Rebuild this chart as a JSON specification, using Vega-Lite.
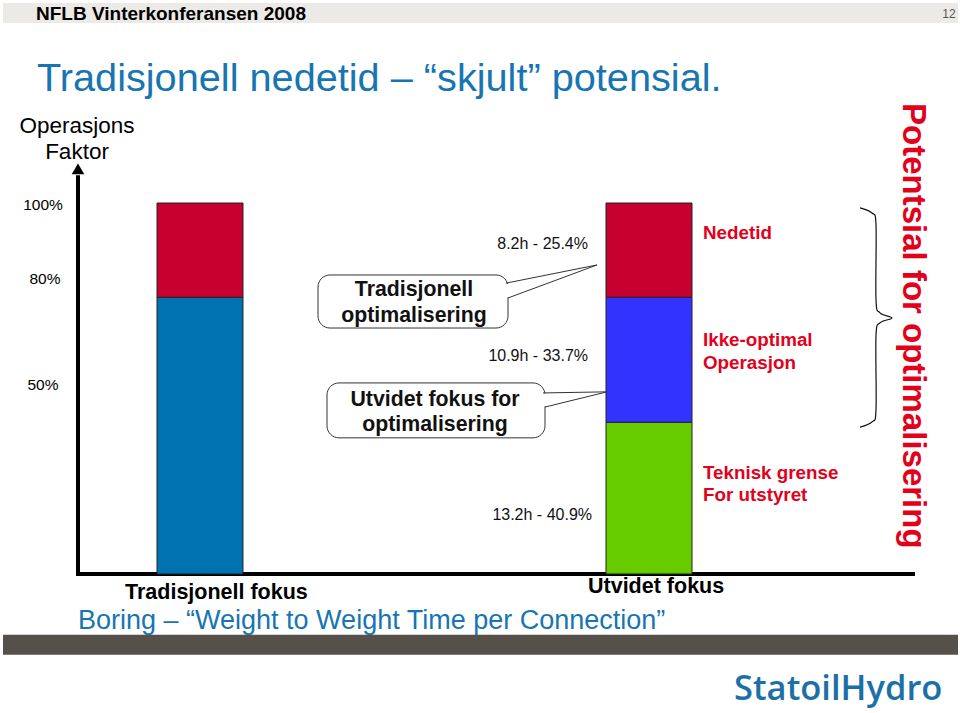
{
  "$schema": "https://vega.github.io/schema/vega-lite/v6.json",
  "width": 960,
  "height": 713,
  "autosize": {"type": "fit", "contains": "padding"},
  "padding": 0,
  "background": "white",
  "config": {"view": {"stroke": null}},
  "resolve": {"scale": {"x": "independent", "color": "independent"}},
  "layer": [
    {
      "data": {"values": [{"band": "topp", "x": 3, "x2": 958, "y": 153.9, "y2": 148.5}]},
      "mark": {"type": "rect", "fill": "#ECEAE7"},
      "encoding": {
        "x": {"field": "x", "type": "quantitative", "scale": {"domain": [0, 960]}, "axis": null},
        "x2": {"field": "x2"},
        "y": {"field": "y", "type": "quantitative", "scale": {"domain": [-37.47, 154.72]}, "axis": null},
        "y2": {"field": "y2"}
      }
    },
    {
      "data": {"values": [{"band": "bunn", "x": 3, "x2": 958, "y": -16.4, "y2": -21.8}]},
      "mark": {"type": "rect", "fill": "#56504B"},
      "encoding": {
        "x": {"field": "x", "type": "quantitative", "scale": {"domain": [0, 960]}, "axis": null},
        "x2": {"field": "x2"},
        "y": {"field": "y", "type": "quantitative", "scale": {"domain": [-37.47, 154.72]}, "axis": null},
        "y2": {"field": "y2"}
      }
    },
    {
      "data": {"values": [{"t": "NFLB Vinterkonferansen 2008", "x": 36, "y": 150.9}]},
      "mark": {"type": "text", "align": "left", "baseline": "middle", "font": "Liberation Sans", "fontSize": 19, "fontWeight": "bold", "color": "#000000"},
      "encoding": {
        "x": {"field": "x", "type": "quantitative", "scale": {"domain": [0, 960]}, "axis": null},
        "y": {"field": "y", "type": "quantitative", "scale": {"domain": [-37.47, 154.72]}, "axis": null},
        "text": {"field": "t"}
      }
    },
    {
      "data": {"values": [{"t": "12", "x": 949, "y": 150.9}]},
      "mark": {"type": "text", "align": "center", "baseline": "middle", "font": "Liberation Sans", "fontSize": 12, "color": "#555555"},
      "encoding": {
        "x": {"field": "x", "type": "quantitative", "scale": {"domain": [0, 960]}, "axis": null},
        "y": {"field": "y", "type": "quantitative", "scale": {"domain": [-37.47, 154.72]}, "axis": null},
        "text": {"field": "t"}
      }
    },
    {
      "data": {"values": [{"t": "Tradisjonell nedetid – “skjult” potensial.", "x": 37, "y": 130.2}]},
      "mark": {"type": "text", "align": "left", "baseline": "alphabetic", "font": "Liberation Sans", "fontSize": 39.7, "color": "#1775B3"},
      "encoding": {
        "x": {"field": "x", "type": "quantitative", "scale": {"domain": [0, 960]}, "axis": null},
        "y": {"field": "y", "type": "quantitative", "scale": {"domain": [-37.47, 154.72]}, "axis": null},
        "text": {"field": "t"}
      }
    },
    {
      "data": {"values": [{"t": "Operasjons", "x": 77, "y": 120.75}, {"t": "Faktor", "x": 77, "y": 113.7}]},
      "mark": {"type": "text", "align": "center", "baseline": "middle", "font": "Liberation Sans", "fontSize": 22.5, "color": "#000000"},
      "encoding": {
        "x": {"field": "x", "type": "quantitative", "scale": {"domain": [0, 960]}, "axis": null},
        "y": {"field": "y", "type": "quantitative", "scale": {"domain": [-37.47, 154.72]}, "axis": null},
        "text": {"field": "t"}
      }
    },
    {
      "data": {"values": [{"t": "100%", "x": 43, "y": 99.5}, {"t": "80%", "x": 45, "y": 79.5}, {"t": "50%", "x": 43, "y": 50.9}]},
      "mark": {"type": "text", "align": "center", "baseline": "middle", "font": "Liberation Sans", "fontSize": 15.5, "color": "#000000"},
      "encoding": {
        "x": {"field": "x", "type": "quantitative", "scale": {"domain": [0, 960]}, "axis": null},
        "y": {"field": "y", "type": "quantitative", "scale": {"domain": [-37.47, 154.72]}, "axis": null},
        "text": {"field": "t"}
      }
    },
    {
      "data": {"values": [{"akse": "y", "x": 78, "x2": 78, "y": 0, "y2": 107.5}, {"akse": "x", "x": 76, "x2": 915, "y": 0, "y2": 0}]},
      "mark": {"type": "rule", "strokeWidth": 4, "color": "#000000"},
      "encoding": {
        "x": {"field": "x", "type": "quantitative", "scale": {"domain": [0, 960]}, "axis": null},
        "x2": {"field": "x2"},
        "y": {"field": "y", "type": "quantitative", "scale": {"domain": [-37.47, 154.72]}, "axis": null},
        "y2": {"field": "y2"}
      }
    },
    {
      "data": {"values": [{"x": 78, "y": 109.2}]},
      "mark": {"type": "point", "shape": "triangle-up", "size": 160, "filled": true, "color": "#000000", "opacity": 1},
      "encoding": {
        "x": {"field": "x", "type": "quantitative", "scale": {"domain": [0, 960]}, "axis": null},
        "y": {"field": "y", "type": "quantitative", "scale": {"domain": [-37.47, 154.72]}, "axis": null}
      }
    },
    {
      "data": {"values": [
        {"fokus": "Tradisjonell fokus", "del": "Operasjon", "niva": 1, "verdi": 74.6},
        {"fokus": "Tradisjonell fokus", "del": "Nedetid", "niva": 2, "verdi": 25.4},
        {"fokus": "Utvidet fokus", "del": "Teknisk grense", "niva": 1, "verdi": 40.9},
        {"fokus": "Utvidet fokus", "del": "Ikke-optimal operasjon", "niva": 2, "verdi": 33.7},
        {"fokus": "Utvidet fokus", "del": "Nedetid", "niva": 3, "verdi": 25.4}
      ]},
      "mark": {"type": "bar", "stroke": "#222222", "strokeWidth": 1},
      "encoding": {
        "x": {"field": "fokus", "type": "nominal", "scale": {"domain": ["Tradisjonell fokus", "Utvidet fokus"], "range": [157, 692], "paddingInner": 0.8085, "paddingOuter": 0}, "axis": null},
        "y": {"field": "verdi", "type": "quantitative", "stack": "zero", "scale": {"domain": [-37.47, 154.72]}, "axis": null},
        "color": {"field": "del", "type": "nominal", "scale": {"domain": ["Nedetid", "Ikke-optimal operasjon", "Teknisk grense", "Operasjon"], "range": ["#C8002F", "#3333FF", "#66CC00", "#0072B2"]}, "legend": null},
        "order": {"field": "niva", "type": "quantitative"}
      }
    },
    {
      "data": {"values": [
        {"boks": "Tradisjonell optimalisering", "x": 318, "x2": 508, "y": 80.6, "y2": 66.3},
        {"boks": "Utvidet fokus for optimalisering", "x": 327, "x2": 545, "y": 51.5, "y2": 36.7}
      ]},
      "mark": {"type": "rect", "cornerRadius": 12, "fill": "#FFFFFF", "stroke": "#333333", "strokeWidth": 1},
      "encoding": {
        "x": {"field": "x", "type": "quantitative", "scale": {"domain": [0, 960]}, "axis": null},
        "x2": {"field": "x2"},
        "y": {"field": "y", "type": "quantitative", "scale": {"domain": [-37.47, 154.72]}, "axis": null},
        "y2": {"field": "y2"}
      }
    },
    {
      "data": {"values": [
        {"x": 508, "x2": 508, "y": 78.2, "y2": 74.6},
        {"x": 545, "x2": 545, "y": 48.6, "y2": 45.2}
      ]},
      "mark": {"type": "rule", "strokeWidth": 3, "color": "#FFFFFF"},
      "encoding": {
        "x": {"field": "x", "type": "quantitative", "scale": {"domain": [0, 960]}, "axis": null},
        "x2": {"field": "x2"},
        "y": {"field": "y", "type": "quantitative", "scale": {"domain": [-37.47, 154.72]}, "axis": null},
        "y2": {"field": "y2"}
      }
    },
    {
      "data": {"values": [
        {"x": 506, "x2": 597, "y": 78.4, "y2": 83.3},
        {"x": 597, "x2": 508, "y": 83.3, "y2": 74.4},
        {"x": 543, "x2": 607, "y": 48.8, "y2": 49.1},
        {"x": 607, "x2": 545, "y": 49.1, "y2": 45.0}
      ]},
      "mark": {"type": "rule", "strokeWidth": 1, "color": "#333333"},
      "encoding": {
        "x": {"field": "x", "type": "quantitative", "scale": {"domain": [0, 960]}, "axis": null},
        "x2": {"field": "x2"},
        "y": {"field": "y", "type": "quantitative", "scale": {"domain": [-37.47, 154.72]}, "axis": null},
        "y2": {"field": "y2"}
      }
    },
    {
      "data": {"values": [
        {"t": "Tradisjonell", "x": 414, "y": 76.5},
        {"t": "optimalisering", "x": 414, "y": 69.5},
        {"t": "Utvidet fokus for", "x": 435, "y": 46.9},
        {"t": "optimalisering", "x": 435, "y": 40.2}
      ]},
      "mark": {"type": "text", "align": "center", "baseline": "middle", "font": "Liberation Sans", "fontSize": 21.3, "fontWeight": "bold", "color": "#111111"},
      "encoding": {
        "x": {"field": "x", "type": "quantitative", "scale": {"domain": [0, 960]}, "axis": null},
        "y": {"field": "y", "type": "quantitative", "scale": {"domain": [-37.47, 154.72]}, "axis": null},
        "text": {"field": "t"}
      }
    },
    {
      "data": {"values": [
        {"t": "8.2h - 25.4%", "x": 588, "y": 88.9},
        {"t": "10.9h - 33.7%", "x": 588, "y": 58.8},
        {"t": "13.2h - 40.9%", "x": 592, "y": 15.9}
      ]},
      "mark": {"type": "text", "align": "right", "baseline": "middle", "font": "Liberation Sans", "fontSize": 16, "color": "#111111"},
      "encoding": {
        "x": {"field": "x", "type": "quantitative", "scale": {"domain": [0, 960]}, "axis": null},
        "y": {"field": "y", "type": "quantitative", "scale": {"domain": [-37.47, 154.72]}, "axis": null},
        "text": {"field": "t"}
      }
    },
    {
      "data": {"values": [
        {"t": "Nedetid", "x": 703, "y": 91.9},
        {"t": "Ikke-optimal", "x": 703, "y": 63.1},
        {"t": "Operasjon", "x": 703, "y": 56.9},
        {"t": "Teknisk grense", "x": 703, "y": 27.2},
        {"t": "For utstyret", "x": 703, "y": 21.3}
      ]},
      "mark": {"type": "text", "align": "left", "baseline": "middle", "font": "Liberation Sans", "fontSize": 18.8, "fontWeight": "bold", "color": "#E3001B"},
      "encoding": {
        "x": {"field": "x", "type": "quantitative", "scale": {"domain": [0, 960]}, "axis": null},
        "y": {"field": "y", "type": "quantitative", "scale": {"domain": [-37.47, 154.72]}, "axis": null},
        "text": {"field": "t"}
      }
    },
    {
      "data": {"values": [
        {"i": 1, "x": 860, "y": 98.7},
        {"i": 2, "x": 872, "y": 97.3},
        {"i": 3, "x": 876, "y": 94.1},
        {"i": 4, "x": 876, "y": 73.9},
        {"i": 5, "x": 880, "y": 70.4},
        {"i": 6, "x": 892, "y": 69.0},
        {"i": 7, "x": 880, "y": 67.7},
        {"i": 8, "x": 876, "y": 64.2},
        {"i": 9, "x": 876, "y": 44.2},
        {"i": 10, "x": 872, "y": 41.0},
        {"i": 11, "x": 860, "y": 39.6}
      ]},
      "mark": {"type": "line", "interpolate": "cardinal", "strokeWidth": 1.2, "color": "#111111"},
      "encoding": {
        "x": {"field": "x", "type": "quantitative", "scale": {"domain": [0, 960]}, "axis": null},
        "y": {"field": "y", "type": "quantitative", "scale": {"domain": [-37.47, 154.72]}, "axis": null},
        "order": {"field": "i", "type": "quantitative"}
      }
    },
    {
      "data": {"values": [{"t": "Potentsial for optimalisering", "x": 913, "y": 66.9}]},
      "mark": {"type": "text", "align": "center", "baseline": "middle", "angle": 90, "font": "Liberation Sans", "fontSize": 33, "fontWeight": "bold", "color": "#E3001B"},
      "encoding": {
        "x": {"field": "x", "type": "quantitative", "scale": {"domain": [0, 960]}, "axis": null},
        "y": {"field": "y", "type": "quantitative", "scale": {"domain": [-37.47, 154.72]}, "axis": null},
        "text": {"field": "t"}
      }
    },
    {
      "data": {"values": [
        {"t": "Tradisjonell fokus", "x": 125, "y": -5.1},
        {"t": "Utvidet fokus", "x": 588, "y": -3.5}
      ]},
      "mark": {"type": "text", "align": "left", "baseline": "middle", "font": "Liberation Sans", "fontSize": 21.5, "fontWeight": "bold", "color": "#000000"},
      "encoding": {
        "x": {"field": "x", "type": "quantitative", "scale": {"domain": [0, 960]}, "axis": null},
        "y": {"field": "y", "type": "quantitative", "scale": {"domain": [-37.47, 154.72]}, "axis": null},
        "text": {"field": "t"}
      }
    },
    {
      "data": {"values": [{"t": "Boring – “Weight to Weight Time per Connection”", "x": 78, "y": -12.7}]},
      "mark": {"type": "text", "align": "left", "baseline": "middle", "font": "Liberation Sans", "fontSize": 27, "color": "#1775B3"},
      "encoding": {
        "x": {"field": "x", "type": "quantitative", "scale": {"domain": [0, 960]}, "axis": null},
        "y": {"field": "y", "type": "quantitative", "scale": {"domain": [-37.47, 154.72]}, "axis": null},
        "text": {"field": "t"}
      }
    },
    {
      "data": {"values": [{"t": "StatoilHydro", "x": 734, "y": -31.3}]},
      "mark": {"type": "text", "align": "left", "baseline": "middle", "font": "Open Sans", "fontSize": 34.5, "fontWeight": 600, "color": "#1D6FA7"},
      "encoding": {
        "x": {"field": "x", "type": "quantitative", "scale": {"domain": [0, 960]}, "axis": null},
        "y": {"field": "y", "type": "quantitative", "scale": {"domain": [-37.47, 154.72]}, "axis": null},
        "text": {"field": "t"}
      }
    }
  ]
}
